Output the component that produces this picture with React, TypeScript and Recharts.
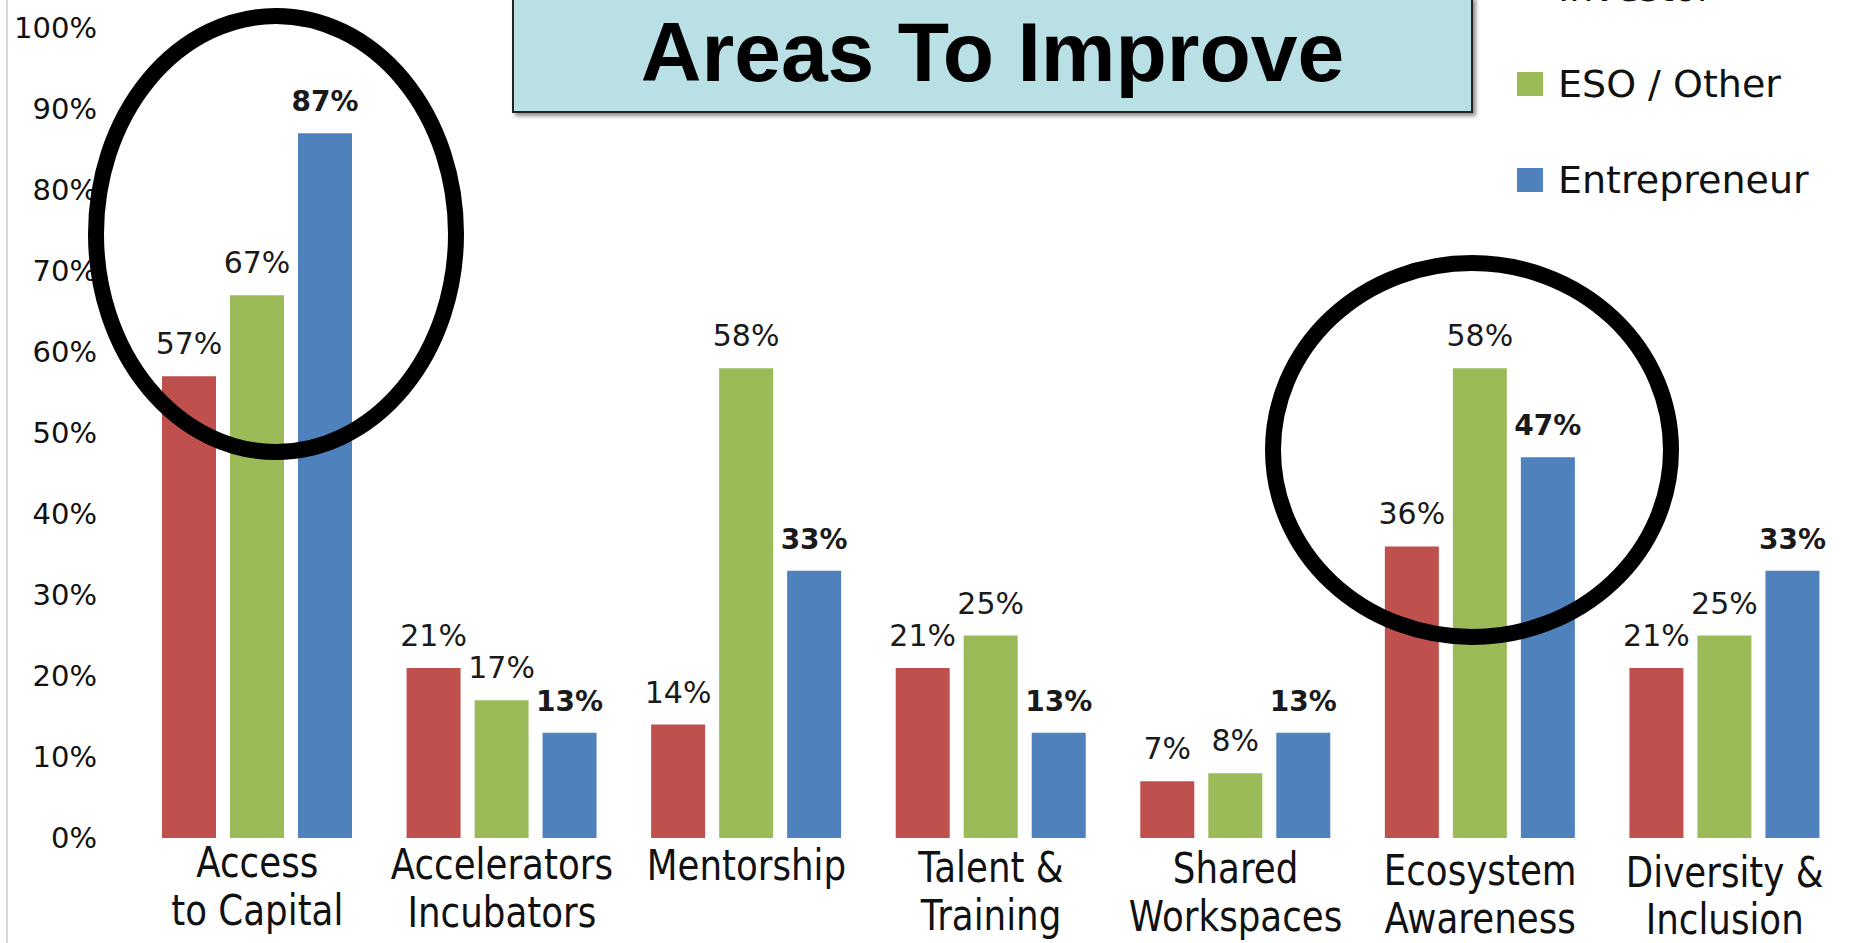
import { BarChart, Bar, XAxis, YAxis, Legend, LabelList } from 'recharts';

const categories = [
  'Access\nto Capital',
  'Accelerators\nIncubators',
  'Mentorship',
  'Talent &\nTraining',
  'Shared\nWorkspaces',
  'Ecosystem\nAwareness',
  'Diversity &\nInclusion',
];
const seriesNames = ['Investor', 'ESO / Other', 'Entrepreneur'];
const investor = [57, 21, 14, 21, 7, 36, 21];
const esoOther = [67, 17, 58, 25, 8, 58, 25];
const entrepreneur = [87, 13, 33, 13, 13, 47, 33];
const yTicks = [0, 10, 20, 30, 40, 50, 60, 70, 80, 90, 100];

const data = categories.map((category, i) => ({
  category,
  investor: investor[i],
  eso: esoOther[i],
  entrepreneur: entrepreneur[i],
}));

const FONT = '"DejaVu Sans", sans-serif';

function PercentTick(props: any) {
  const { x, y, payload } = props;
  return (
    <text x={x - 30} y={y} dy={10} textAnchor="end" fontFamily={FONT} fontSize={29} fill="#111">
      {payload.value}%
    </text>
  );
}

// category names are two-line labels, squeezed a little like the original
function CategoryTick(props: any) {
  const { x, y, payload, index } = props;
  const lines = String(payload.value).split('\n');
  const first = 30 + index * 1.5;
  return (
    <g transform={`translate(${x},${y})`}>
      <text textAnchor="middle" transform="scale(0.87,1.04)" fontFamily={FONT} fontSize={41} fill="#111">
        {lines.map((line, i) => (
          <tspan key={i} x={0} y={first + i * 46}>
            {line}
          </tspan>
        ))}
      </text>
    </g>
  );
}

const valueLabel = (bold: boolean) => (props: any) => {
  const { x, y, width, value } = props;
  return (
    <text
      x={Number(x) + Number(width) / 2}
      y={Number(y) - 22}
      textAnchor="middle"
      fontFamily={FONT}
      fontSize={bold ? 28 : 30}
      fontWeight={bold ? 700 : 400}
      fill="#1a1a1a"
    >
      {value}%
    </text>
  );
};

function LegendBox(props: any) {
  const items = [...(props.payload || [])].sort(
    (a: any, b: any) => seriesNames.indexOf(a.value) - seriesNames.indexOf(b.value)
  );
  return (
    <svg width={340} height={260} style={{ overflow: 'visible' }}>
      {items.map((item: any, i: number) => {
        const base = 21 + i * 96;
        return (
          <g key={item.value}>
            <rect x={17} y={base - 25} width={26} height={24} fill={item.color} />
            <text x={58} y={base} fontFamily={FONT} fontSize={38} fill="#111">
              {item.value}
            </text>
          </g>
        );
      })}
    </svg>
  );
}

export default function App() {
  return (
    <div style={{ position: 'absolute', left: 0, top: 0, width: 1858, height: 943, background: '#fff', overflow: 'hidden' }}>
      <div style={{ position: 'absolute', left: 6, top: 0, width: 2, height: 943, background: '#d6d6d6' }} />
      <BarChart
        width={1858}
        height={943}
        data={data}
        margin={{ top: 28, right: 11, bottom: 0, left: 0 }}
        barSize={54}
        barGap={14}
      >
        <XAxis
          dataKey="category"
          height={105}
          interval={0}
          tickLine={false}
          axisLine={false}
          tick={<CategoryTick />}
        />
        <YAxis
          width={135}
          domain={[0, 100]}
          ticks={yTicks}
          tickLine={false}
          axisLine={false}
          tick={<PercentTick />}
        />
        <Legend
          layout="horizontal"
          align="center"
          verticalAlign="middle"
          content={<LegendBox />}
          wrapperStyle={{ left: 1500, top: -20, width: 340, height: 260 }}
        />
        <Bar dataKey="investor" name={seriesNames[0]} fill="#C0504D" isAnimationActive={false}>
          <LabelList dataKey="investor" content={valueLabel(false)} />
        </Bar>
        <Bar dataKey="eso" name={seriesNames[1]} fill="#9BBB59" isAnimationActive={false}>
          <LabelList dataKey="eso" content={valueLabel(false)} />
        </Bar>
        <Bar dataKey="entrepreneur" name={seriesNames[2]} fill="#4F81BD" isAnimationActive={false}>
          <LabelList dataKey="entrepreneur" content={valueLabel(true)} />
        </Bar>
      </BarChart>
      <div
        style={{
          position: 'absolute',
          left: 512,
          top: -4,
          width: 957,
          height: 113,
          background: '#b9e0e4',
          border: '2px solid #222',
          boxShadow: '3px 3px 4px rgba(0,0,0,0.45)',
        }}
      />
      <div
        style={{
          position: 'absolute',
          left: 512,
          top: 10,
          width: 961,
          textAlign: 'center',
          fontFamily: '"Liberation Sans", Arial, sans-serif',
          fontWeight: 700,
          fontSize: 84,
          lineHeight: 1,
          color: '#000',
        }}
      >
        Areas To Improve
      </div>
      <svg width={1858} height={943} style={{ position: 'absolute', left: 0, top: 0, pointerEvents: 'none' }}>
        <ellipse cx={276} cy={234} rx={180} ry={218} fill="none" stroke="#000" strokeWidth={16} />
        <ellipse cx={1472} cy={450} rx={199} ry={187} fill="none" stroke="#000" strokeWidth={16} />
      </svg>
    </div>
  );
}
